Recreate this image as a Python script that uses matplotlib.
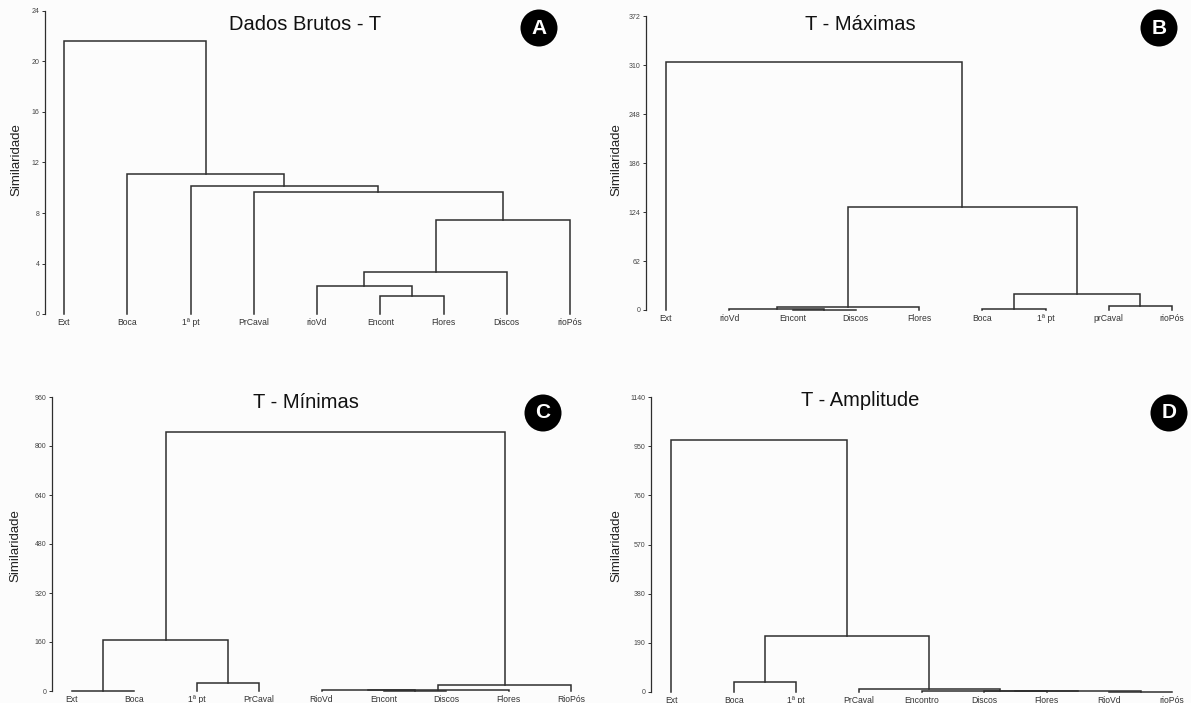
import matplotlib
matplotlib.use("Agg")
import matplotlib.pyplot as plt
from matplotlib.patches import Ellipse

plt.rcParams['font.family'] = ['Liberation Sans', 'DejaVu Sans']

W, H = 1191, 703

# ---- data (leaf order as drawn; merges: left id, right id, height) ----
leaves_a = ['Ext', 'Boca', '1ª pt', 'PrCaval', 'rioVd', 'Encont', 'Flores', 'Discos', 'rioPós']
merges_a = [(5, 6, 1.43), (4, 9, 2.24), (10, 7, 3.3), (11, 8, 7.42),
            (3, 12, 9.64), (2, 13, 10.16), (1, 14, 11.06), (0, 15, 21.6)]
yticks_a = [0, 4, 8, 12, 16, 20, 24]

leaves_b = ['Ext', 'rioVd', 'Encont', 'Discos', 'Flores', 'Boca', '1ª pt', 'prCaval', 'rioPós']
merges_b = [(2, 3, 0.5), (1, 9, 1.0), (10, 4, 3.8), (5, 6, 1.7),
            (7, 8, 5.5), (12, 13, 20), (11, 14, 131), (0, 15, 314)]
yticks_b = [0, 62, 124, 186, 248, 310, 372]

leaves_c = ['Ext', 'Boca', '1ª pt', 'PrCaval', 'RioVd', 'Encont', 'Discos', 'Flores', 'RioPós']
merges_c = [(0, 1, 1.5), (2, 3, 25), (9, 10, 165), (5, 6, 1.0),
            (4, 12, 2.0), (13, 7, 4.0), (14, 8, 19), (11, 15, 845)]
yticks_c = [0, 160, 320, 480, 640, 800, 960]

leaves_d = ['Ext', 'Boca', '1ª pt', 'PrCaval', 'Encontro', 'Discos', 'Flores', 'RioVd', 'rioPós']
merges_d = [(1, 2, 39), (5, 6, 1.0), (7, 8, 0.5), (10, 11, 2.0),
            (4, 12, 4.0), (3, 13, 10), (9, 14, 216), (0, 15, 975)]
yticks_d = [0, 190, 380, 570, 760, 950, 1140]

titles = ['Dados Brutos - T', 'T - Máximas', 'T - Mínimas', 'T - Amplitude']
badges = ['A', 'B', 'C', 'D']

# ---- layout in pixels: axis x, first leaf x, last leaf x, zero y, top y ----
layout = [
    dict(ax_x=45, l0=64, l8=570, y0=314, ytop=11, title=(305, 24), badge=(539, 28), ylab=(16, 160)),
    dict(ax_x=646, l0=666, l8=1172, y0=310, ytop=16.5, title=(860, 25), badge=(1159, 28), ylab=(616, 160)),
    dict(ax_x=52, l0=72, l8=571, y0=691, ytop=397, title=(306, 403), badge=(543, 413), ylab=(15, 546)),
    dict(ax_x=651, l0=671, l8=1172, y0=691.7, ytop=397.3, title=(860, 401), badge=(1169, 413), ylab=(616, 546)),
]

panels = [(leaves_a, merges_a, yticks_a), (leaves_b, merges_b, yticks_b),
          (leaves_c, merges_c, yticks_c), (leaves_d, merges_d, yticks_d)]

LC = '#2e2e2e'


def draw_dendro(ax, leaves, merges):
    xs = {i: float(i) for i in range(len(leaves))}
    hs = {i: 0.0 for i in range(len(leaves))}
    n = len(leaves)
    for k, (a, b, h) in enumerate(merges):
        xa, xb = xs[a], xs[b]
        ax.plot([xa, xa, xb, xb], [hs[a], h, h, hs[b]], color=LC, lw=1.1,
                solid_joinstyle='miter', clip_on=False)
        xs[n + k] = (xa + xb) / 2
        hs[n + k] = h


fig = plt.figure(figsize=(W / 100, H / 100), dpi=100, facecolor='#fcfcfc')

for (leaves, merges, yticks), lay, title, badge in zip(panels, layout, titles, badges):
    sp = (lay['l8'] - lay['l0']) / 8
    right = lay['l8'] + 18
    ax = fig.add_axes([lay['ax_x'] / W, (H - lay['y0']) / H,
                       (right - lay['ax_x']) / W, (lay['y0'] - lay['ytop']) / H])
    ax.set_facecolor('none')
    draw_dendro(ax, leaves, merges)
    ax.set_xlim((lay['ax_x'] - lay['l0']) / sp, (right - lay['l0']) / sp)
    ax.set_ylim(0, yticks[-1])
    for s in ['top', 'right', 'bottom']:
        ax.spines[s].set_visible(False)
    ax.spines['left'].set_color(LC)
    ax.spines['left'].set_linewidth(0.9)
    ax.spines['left'].set_bounds(0, yticks[-1])
    ax.set_yticks(yticks)
    ax.set_yticklabels([str(t) for t in yticks])
    ax.tick_params(axis='y', length=2.5, width=0.7, color=LC, labelsize=5,
                   labelcolor='#444444', pad=1.5)
    ax.set_xticks(range(len(leaves)))
    ax.set_xticklabels(leaves)
    ax.tick_params(axis='x', length=0, labelsize=6.2, labelcolor='#333333', pad=8)
    for lbl in ax.get_xticklabels():
        lbl.set_va('baseline')

    fig.text(lay['title'][0] / W, 1 - lay['title'][1] / H, title, ha='center', va='center',
             fontsize=14.5, color='#111111')
    fig.text(lay['ylab'][0] / W, 1 - lay['ylab'][1] / H, 'Similaridade', ha='center', va='center',
             rotation=90, fontsize=9.5, color='#222222')
    bx, by = lay['badge']
    fig.patches.append(Ellipse((bx / W, 1 - by / H), 37 / W, 37 / H, transform=fig.transFigure,
                               facecolor='black', edgecolor='none'))
    fig.text(bx / W, 1 - by / H, badge, ha='center', va='center', fontsize=15,
             fontweight='bold', color='white')

fig.savefig('out.png', dpi=100, facecolor=fig.get_facecolor())
